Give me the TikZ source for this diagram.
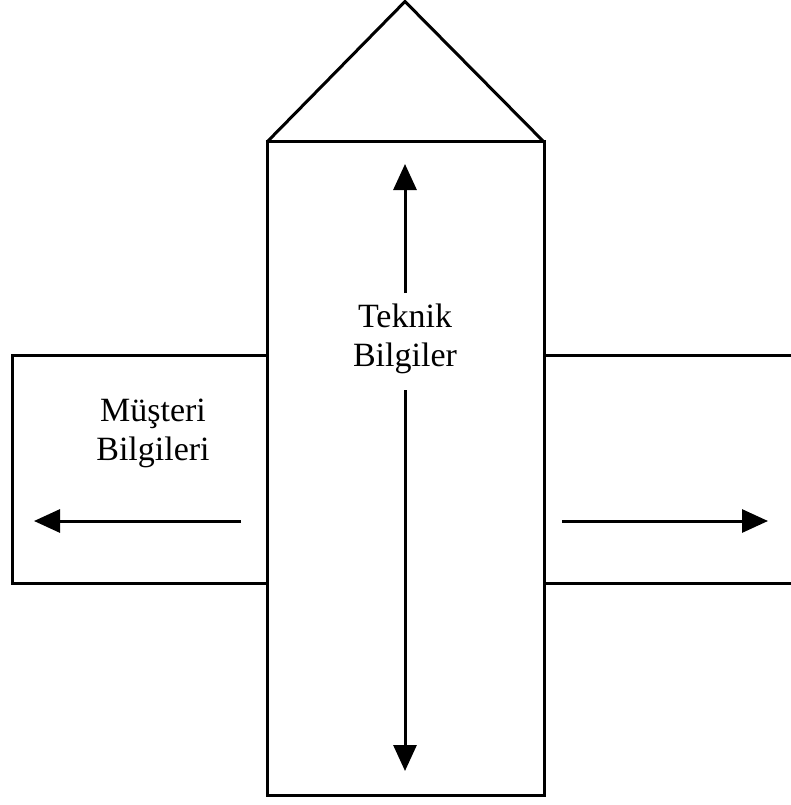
\documentclass[tikz,border=0pt]{standalone}
\usepackage{fontspec}
\setmainfont{Liberation Serif}
\usetikzlibrary{arrows.meta}
\begin{document}
\begin{tikzpicture}[x=1pt,y=-1pt,
  outline/.style={line width=3pt,line join=miter},
  flow/.style={line width=3pt,-{Triangle[length=26pt,width=23pt]}},
  label/.style={align=center,font=\fontsize{34}{39}\selectfont,inner sep=0pt}]
  \useasboundingbox (0,0) rectangle (791,805);
  % tower with pointed roof
  \draw[outline] (267,142) rectangle (544,795);
  \draw[outline] (267,142) -- (405,1.5) -- (544,142);
  % side wings
  \draw[outline] (267,355) -- (12,355) -- (12,583) -- (267,583);
  \draw[outline] (544,355) -- (795,355);
  \draw[outline] (544,583) -- (795,583);
  % labels
  \node[label] (tech) at (405,339) {Teknik\\Bilgiler};
  \node[label] (cust) at (153,433) {Müşteri\\Bilgileri};
  % arrows
  \coordinate (upS) at (405,293);
  \coordinate (upE) at (405,164);
  \coordinate (dnS) at (405,390);
  \coordinate (dnE) at (405,771);
  \coordinate (lfS) at (241,521);
  \coordinate (lfE) at (34,521);
  \coordinate (rtS) at (562,521);
  \coordinate (rtE) at (768,521);
  \draw[flow] (upS) -- (upE);
  \draw[flow] (dnS) -- (dnE);
  \draw[flow] (lfS) -- (lfE);
  \draw[flow] (rtS) -- (rtE);
\end{tikzpicture}
\end{document}
